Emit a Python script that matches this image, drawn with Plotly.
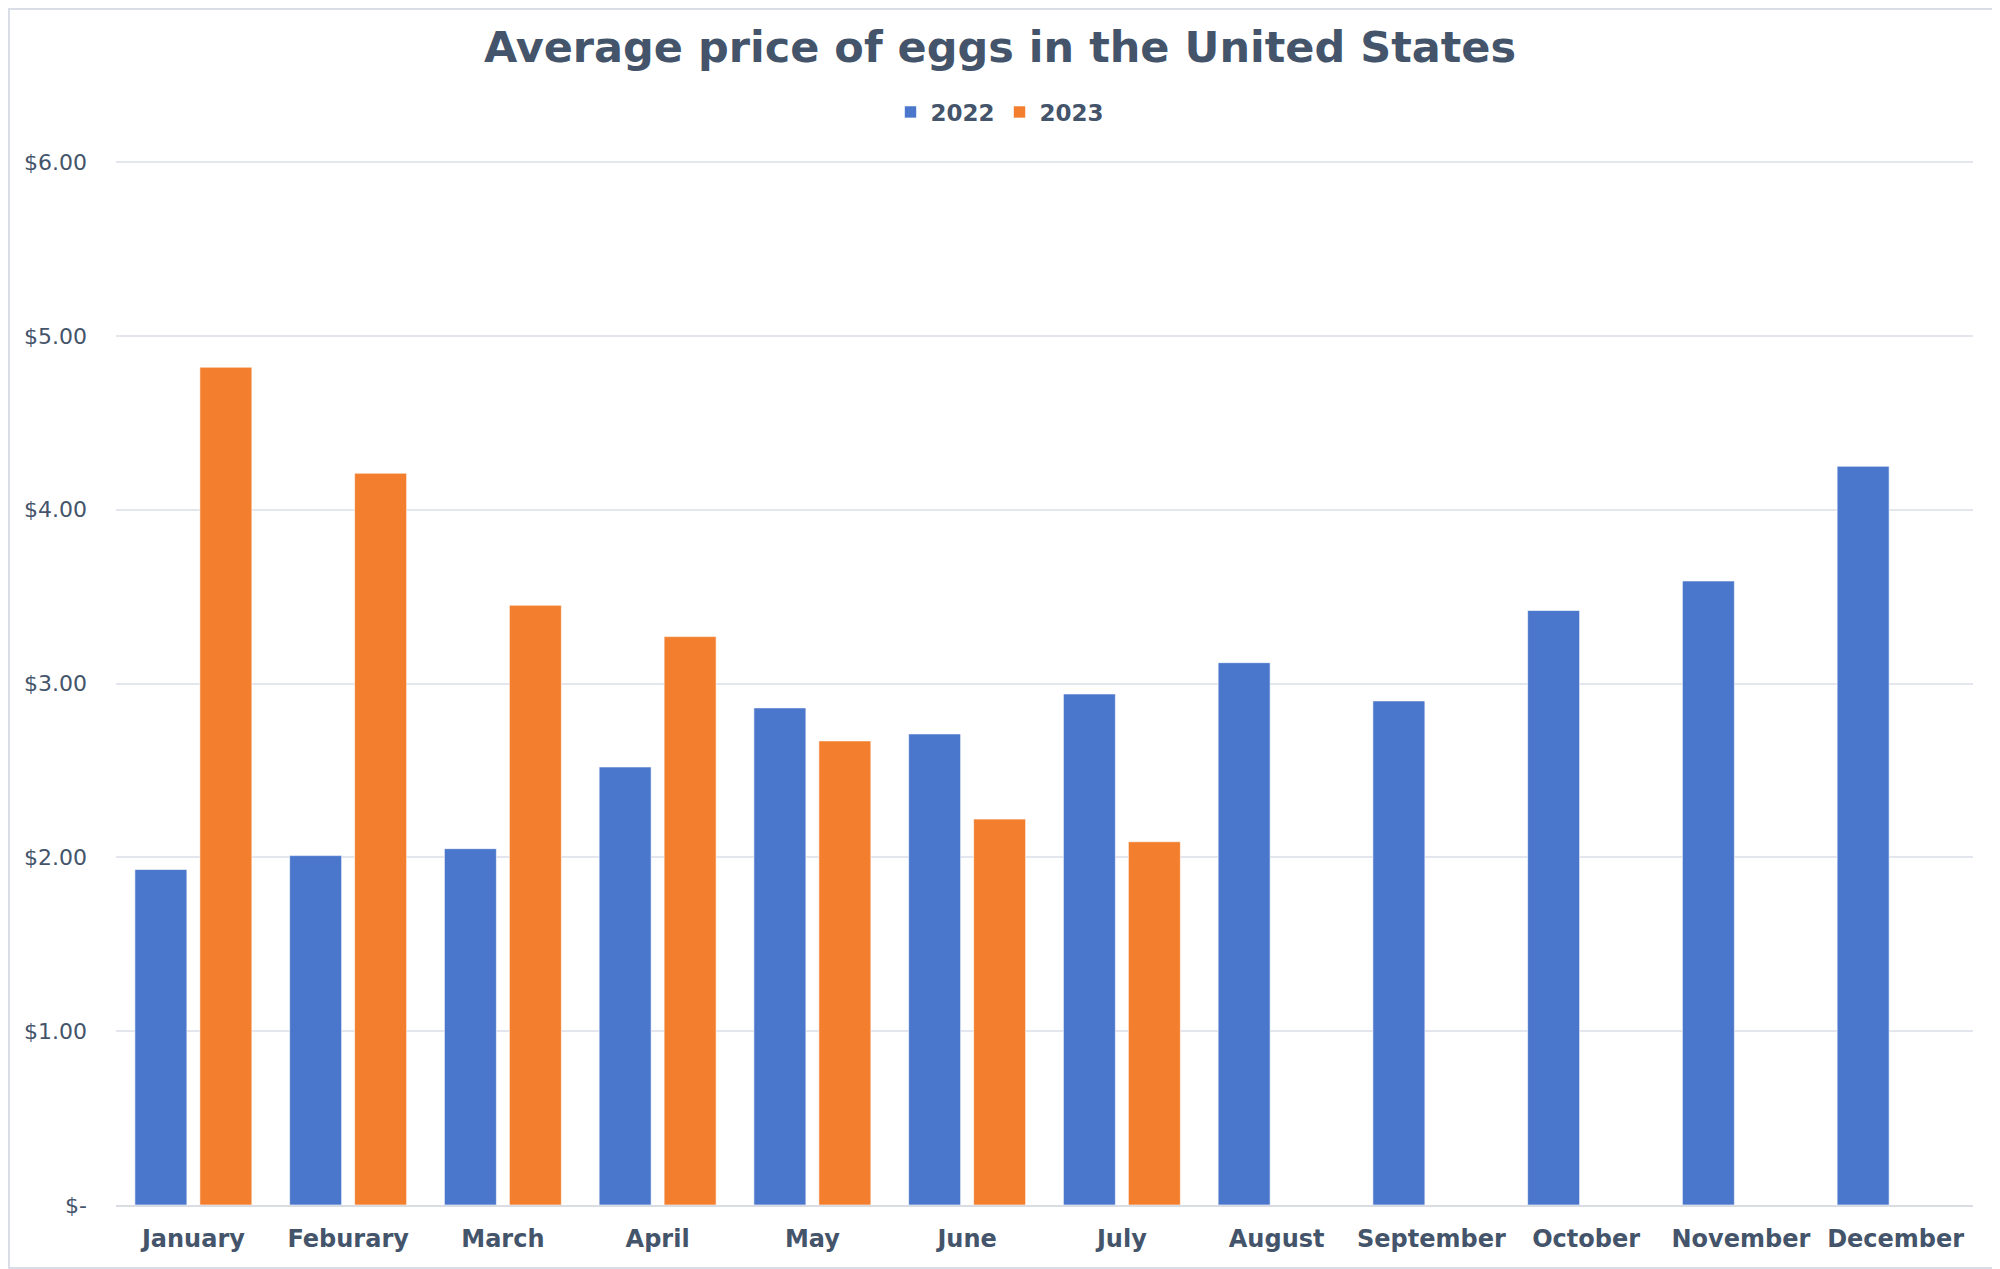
import plotly.graph_objects as go

months = ["January", "Feburary", "March", "April", "May", "June", "July",
          "August", "September", "October", "November", "December"]
price_2022 = [1.93, 2.01, 2.05, 2.52, 2.86, 2.71, 2.94, 3.12, 2.90, 3.42, 3.59, 4.25]
price_2023 = [4.82, 4.21, 3.45, 3.27, 2.67, 2.22, 2.09, None, None, None, None, None]
tick_vals = [0, 1, 2, 3, 4, 5, 6]
tick_text = ["$-", "$1.00", "$2.00", "$3.00", "$4.00", "$5.00", "$6.00"]

TEXT = "#44546A"
FONT = "DejaVu Sans"

OFF = 8  # page body margin offset
W, H = 2000 - OFF, 1269 - OFF
ML, MR, MT, MB = 116 - OFF, 27, 160 - OFF, 64

fig = go.Figure()
fig.add_trace(go.Bar(x=months, y=price_2022, name="<b>2022</b>",
                     marker=dict(color="#4A77CC", line=dict(color="rgba(255,255,255,0.6)", width=1))))
fig.add_trace(go.Bar(x=months, y=price_2023, name="<b>2023</b>",
                     marker=dict(color="#F27E2E", line=dict(color="rgba(255,255,255,0.6)", width=1))))

pw = W - ML - MR
ph = H - MT - MB

fig.update_layout(
    width=W, height=H,
    margin=dict(l=ML, r=MR, t=MT, b=MB),
    paper_bgcolor="white", plot_bgcolor="white",
    font=dict(family=FONT, color=TEXT),
    title=dict(text="<b>Average price of eggs in the United States</b>",
               x=(1000 - OFF) / W, xanchor="center", y=1 - (47 - OFF) / H, yanchor="middle",
               font=dict(size=43, color=TEXT, family=FONT)),
    legend=dict(orientation="h", x=(1000 - 116) / pw, xanchor="center",
                y=(1205 - 112) / ph, yanchor="middle",
                font=dict(size=23, color=TEXT, family=FONT),
                itemwidth=30, traceorder="normal"),
    barmode="group", bargap=0.16, bargroupgap=0.2,
    xaxis=dict(tickvals=months, ticktext=["<b>%s</b>" % m for m in months],
               tickfont=dict(size=24, color=TEXT, family=FONT), showgrid=False,
               showline=True, linecolor="#D9DDE3", linewidth=2, ticks="",
               ticklabelstandoff=11),
    yaxis=dict(range=[0, 6.012], tickvals=tick_vals, ticktext=tick_text,
               tickfont=dict(size=22, color=TEXT, family=FONT),
               showgrid=True, gridcolor="#E3E6EC", gridwidth=2,
               zeroline=False, ticks="", ticklabelstandoff=28),
    shapes=[dict(type="rect", xref="paper", yref="paper",
                 x0=-(ML - 1) / pw, x1=1 + (MR - 1) / pw,
                 y0=-(MB - 1) / ph, y1=1 + (MT - 1) / ph,
                 line=dict(color="#D9DEE6", width=2), fillcolor="rgba(0,0,0,0)", layer="below")],
)

fig.write_html("out.html")
